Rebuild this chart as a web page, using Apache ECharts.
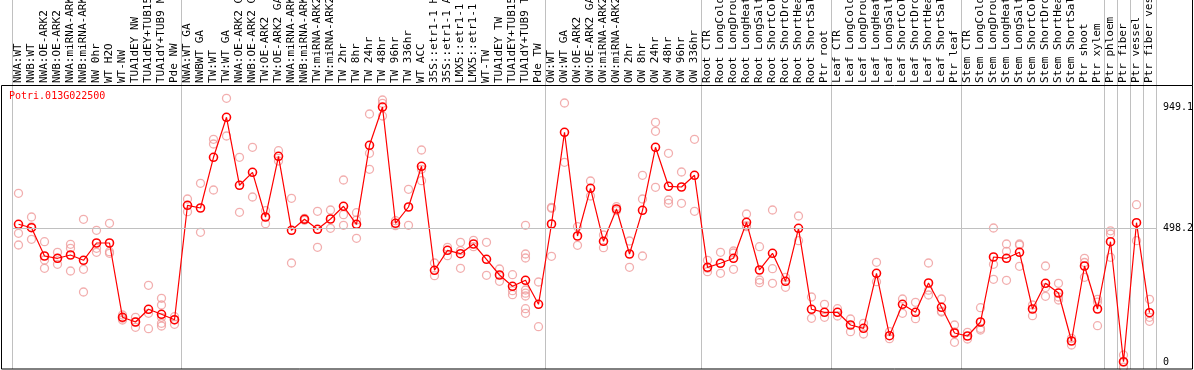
<!DOCTYPE html>
<html>
<head>
<meta charset="utf-8">
<script src="https://cdn.jsdelivr.net/npm/echarts@6/dist/echarts.min.js"></script>
<style>
html,body{margin:0;padding:0;background:#fff;}
#chart{width:1194px;height:370px;}
</style>
</head>
<body>
<div id="chart"></div>
<script>
const geneName = 'Potri.013G022500';

const categories = [
  'NWA:WT','NWB:WT','NWA:OE-ARK2','NWB:OE-ARK2','NWA:miRNA-ARK2','NWB:miRNA-ARK2','NW 0hr','WT H2O','WT-NW',
  'TUA1dEY NW','TUA1dEY+TUB15 NW','TUA1dY+TUB9 NW','Pde NW',
  'NWA:WT GA','NWBWT GA','TW:WT','TW:WT GA','NWA:OE-ARK2 GA','NWB:OE-ARK2 GA','TW:OE-ARK2','TW:OE-ARK2 GA',
  'NWA:miRNA-ARK2','NWB:miRNA-ARK2','TW:miRNA-ARK2','TW:miRNA-ARK2',
  'TW 2hr','TW 8hr','TW 24hr','TW 48hr','TW 96hr','TW 336hr','WT ACC',
  '35S::etr1-1 H2O','35S::etr1-1 ACC','LMX5::etr1-1 H2O','LMX5::etr1-1 ACC','WT-TW',
  'TUA1dEY TW','TUA1dEY+TUB15 TW','TUA1dY+TUB9 TW','Pde TW',
  'OW:WT','OW:WT GA','OW:OE-ARK2','OW:OE-ARK2 GA','OW:miRNA-ARK2','OW:miRNA-ARK2',
  'OW 2hr','OW 8hr','OW 24hr','OW 48hr','OW 96hr','OW 336hr',
  'Root CTR','Root LongCold','Root LongDrought','Root LongHeat','Root LongSalt','Root ShortCold','Root ShortDrought','Root ShortHeat','Root ShortSalt','Ptr root',
  'Leaf CTR','Leaf LongCold','Leaf LongDrought','Leaf LongHeat','Leaf LongSalt','Leaf ShortCold','Leaf ShortDrought','Leaf ShortHeat','Leaf ShortSalt','Ptr leaf',
  'Stem CTR','Stem LongCold','Stem LongDrought','Stem LongHeat','Stem LongSalt','Stem ShortCold','Stem ShortDrought','Stem ShortHeat','Stem ShortSalt','Ptr shoot','Ptr xylem',
  'Ptr phloem','Ptr fiber','Ptr vessel','Ptr fiber vessel'
];

// indices of categories that start a new group (a separator line is drawn before them)
const groupStarts = [0, 13, 41, 53, 63, 73, 84, 85, 86, 87];

const means = [
  513.1, 500.4, 395.2, 386.7, 398.9, 379.2, 443.6, 443.6, 167.3, 149.8, 197.1, 178.5, 158.4,
  583.7, 573.7, 762.2, 910.9, 658.1, 706.4, 540.2, 765.9, 490.8, 531.7, 494.5, 532.8, 580.0, 513.1,
  806.8, 949.1, 516.8, 577.4, 728.7, 342.1, 416.4, 403.8, 439.8, 383.0, 324.6, 282.6, 304.9, 215.6,
  514.2, 855.1, 469.6, 646.9, 449.9, 570.0, 402.7, 565.1, 799.4, 654.4, 651.8, 695.3,
  353.2, 368.1, 386.7, 520.5, 343.2, 405.3, 301.2, 498.2, 197.1, 185.9,
  185.9, 138.7, 126.4, 330.9, 98.9, 215.6, 185.9, 294.8, 204.5, 108.9,
  97.8, 149.8, 391.5, 386.7, 409.0, 198.2, 293.7, 257.7, 79.2, 358.0, 198.2,
  448.4, 2.0, 519.0, 184.4
];

const replicates = [
  [628.3, 479.6, 436.1], [540.2, 503, 457.3], [448.4, 380.3, 349.5], [409.0, 386.7, 364.4],
  [438.7, 423.9, 339.5], [531.7, 345.8, 261.4], [490.8, 423.9, 409.0], [516.8, 411.2, 405.3],
  [175.9, 163.6, 157.3], [167.3, 149.8, 130.1], [286.3, 182.2, 124.9],
  [238.0, 213.0, 167.3, 145.0, 135.0], [169.5, 157.3, 141.3],
  [607.2, 559.9], [665.5, 483.3], [829.1, 811.6, 640.6], [981.6, 841.4], [762.2, 557.7],
  [799.4, 614.6], [563.6, 515.3], [786.7, 748.4], [609.8, 369.2], [535.4, 528.0],
  [561.4, 427.6], [566.2, 498.2], [677.8, 548.8, 509.4], [556.2, 529.1, 461.0],
  [923.2, 777.1, 717.6], [975.2, 963.0, 915.8], [526.5, 507.9], [643.2, 509.4],
  [789.3, 717.6, 675.2], [369.2, 322.0], [427.6, 396.3], [446.2, 415, 349.5],
  [453.6, 429.8], [446.2, 323.5], [346.9, 301.2], [325.7, 266.2, 251.3],
  [509.4, 402.7, 387.8, 268.8, 257, 246.5, 199.3, 182.2], [298.6, 132.4],
  [572.6, 576.0, 394.1], [964.1, 743.6], [504.2, 435.0], [674.1, 618.3], [473.3, 426.1],
  [578.5, 563.6], [451.0, 353.2], [695.3, 607.2, 395.2], [892.3, 858.9, 650.7],
  [777.1, 603.4, 591.2], [707.5, 591.2], [829.1, 561.4],
  [379.2, 349.5, 336.9], [409.0, 368.1, 330.9], [413.8, 406.4, 345.8], [551.4, 508, 504.2],
  [429.8, 306.0, 296.0], [566.2, 348.0, 293.7], [316.0, 278.9], [543.9, 452.1],
  [242.8, 163.6], [215.6, 167.3],
  [199.3, 172.1], [161.0, 113.8], [145.0, 105.2], [371.8, 299.7], [113.8, 87.7],
  [235.4, 182.2], [223.1, 162.1], [369.2, 268, 250.2], [235.4, 190, 187.0], [138.7, 113, 74.4],
  [111.5, 86.6], [203.0, 126, 120.1], [499.3, 364.4, 308.6], [439.8, 412.7, 304.9],
  [439.8, 436.0, 356.9], [213.0, 173.3], [358.0, 278, 245.4], [293.7, 242.8, 231.6],
  [89.2, 64.3], [386.7, 371, 316.0], [234.2, 224, 136.1],
  [489, 477, 390.4], [27.1, 0, -18], [586.0, 452.1], [234.2, 167.3, 152.4]
];

const yLabels = [0, 498.2, 949.1];
const refLine = 498.2;

const repPoints = [];
replicates.forEach((vals, i) => vals.forEach(v => repPoints.push([i, v])));

const mono = 'DejaVu Sans Mono';
const chart = echarts.init(document.getElementById('chart'), null, {renderer: 'canvas'});
chart.setOption({
  animation: false,
  backgroundColor: '#fff',
  title: {
    text: geneName, left: 9, top: 91, padding: 0,
    textStyle: {color: '#ff0000', fontSize: 10, fontWeight: 'normal', fontFamily: mono}
  },
  grid: {left: 12, right: 38, top: 0, bottom: 1, containLabel: false, outerBoundsMode: 'none'},
  xAxis: {
    type: 'category', data: categories, position: 'top', offset: -85, boundaryGap: true,
    axisLine: {show: false, onZero: false}, axisTick: {show: false},
    axisLabel: {interval: 0, rotate: -90, margin: 2, fontFamily: mono, fontSize: 11, color: '#000', hideOverlap: false},
    splitLine: {show: true, interval: (idx) => groupStarts.indexOf(idx) >= 0, lineStyle: {color: '#c0c0c0', width: 1}}
  },
  yAxis: {
    type: 'value', position: 'right', min: -24.9, max: 1347,
    axisLine: {show: false}, axisTick: {show: false}, splitLine: {show: false},
    axisLabel: {customValues: yLabels, formatter: v => String(v), margin: 7, fontFamily: mono, fontSize: 10, color: '#000'}
  },
  graphic: [
    {type: 'rect', silent: true, z: 100, shape: {x: 1.5, y: 85.5, width: 1191, height: 283.5},
     style: {fill: 'none', stroke: '#000', lineWidth: 1}},
    {type: 'line', silent: true, z: 100, shape: {x1: 1192.5, y1: 0, x2: 1192.5, y2: 85.5},
     style: {stroke: '#000', lineWidth: 1}}
  ],
  series: [
    {
      type: 'scatter', data: repPoints, symbol: 'circle', symbolSize: 8, z: 2, silent: true,
      itemStyle: {color: 'rgba(0,0,0,0)', borderColor: '#ef9a9a', borderWidth: 1.3}
    },
    {
      type: 'line', data: means, symbol: 'circle', symbolSize: 8, showAllSymbol: true, z: 3, silent: true,
      color: '#ff0000',
      lineStyle: {color: '#ff0000', width: 1.2},
      itemStyle: {color: 'rgba(0,0,0,0)', borderColor: '#ff0000', borderWidth: 1.6},
      markLine: {
        silent: true, symbol: 'none', label: {show: false},
        lineStyle: {color: '#c0c0c0', width: 1, type: 'solid'},
        data: [{yAxis: refLine}]
      }
    }
  ]
});
</script>
</body>
</html>
